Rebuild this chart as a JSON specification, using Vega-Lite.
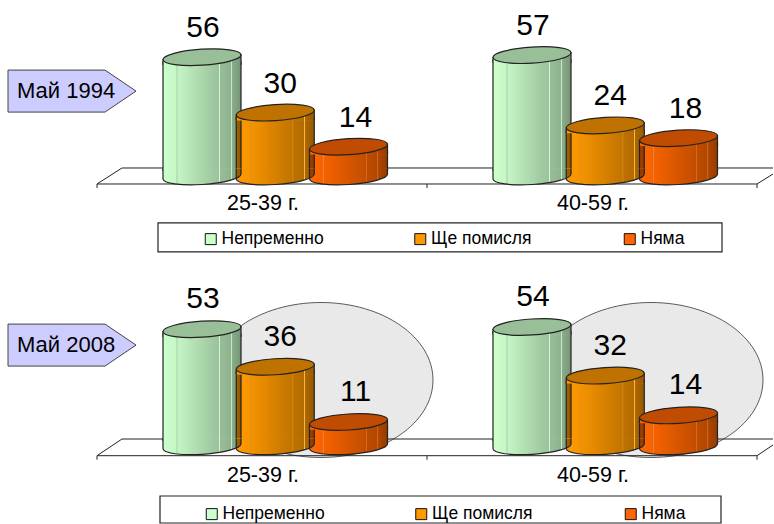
{
"$schema":"https://vega.github.io/schema/vega-lite/v6.json",
"padding":0,"autosize":{"type":"none"},
"background":"white",
"config":{"view":{"stroke":null},"font":"Liberation Sans"},
"datasets":{
"cyl":[
{"period":"Май 1994","group":"25-39 г.","series":"Непременно","value":56},
{"period":"Май 1994","group":"25-39 г.","series":"Ще помисля","value":30},
{"period":"Май 1994","group":"25-39 г.","series":"Няма","value":14},
{"period":"Май 1994","group":"40-59 г.","series":"Непременно","value":57},
{"period":"Май 1994","group":"40-59 г.","series":"Ще помисля","value":24},
{"period":"Май 1994","group":"40-59 г.","series":"Няма","value":18},
{"period":"Май 2008","group":"25-39 г.","series":"Непременно","value":53},
{"period":"Май 2008","group":"25-39 г.","series":"Ще помисля","value":36},
{"period":"Май 2008","group":"25-39 г.","series":"Няма","value":11},
{"period":"Май 2008","group":"40-59 г.","series":"Непременно","value":54},
{"period":"Май 2008","group":"40-59 г.","series":"Ще помисля","value":32},
{"period":"Май 2008","group":"40-59 г.","series":"Няма","value":14}],
"p94":[{"period":"Май 1994"}],
"p08":[{"period":"Май 2008"}],
"groups":[{"group":"25-39 г."},{"group":"40-59 г."}]
},
"width":774,"height":524,
"resolve":{"scale":{"y":"independent","fill":"independent"},"legend":{"fill":"independent"}},
"layer":[
{"layer":[
{"data":{"name":"p94"},"mark":{"type":"point","filled":false,"opacity":1,"fill":"transparent","stroke":"#222","strokeWidth":1,"size":4,"shape":"M-165,11.5 L-165,7.5 L495,7.5 L495,11.5 M165,7.5 L165,11.5 M-165,7.5 L-140,-8.5 L511,-8.5 M495,7.5 L511,-2.5"},
"encoding":{"x":{"datum":"25-39 г.","axis":null},"y":{"datum":0,"type":"quantitative","axis":null}}},
{"data":{"name":"p94"},"mark":{"type":"point","filled":true,"opacity":1,"fill":"#ffffff","stroke":"#222","strokeWidth":1.2,"size":4,"shape":"M-104,-14.5 L460,-14.5 L460,14.5 L-104,14.5 Z"},
"encoding":{"x":{"datum":"25-39 г.","axis":null},"y":{"datum":-28.6,"type":"quantitative","axis":null}}},
{"data":{"name":"p94"},"mark":{"type":"point","filled":true,"opacity":1,"fill":"#ccccff","stroke":"#444","strokeWidth":1,"size":4,"shape":"M-254,-21 L-157,-21 L-126,0 L-157,21 L-254,21 Z"},
"encoding":{"x":{"datum":"25-39 г.","axis":null},"y":{"datum":40.1,"type":"quantitative","axis":null}}},
{"data":{"name":"p94"},"mark":{"type":"text","align":"left","baseline":"middle","dx":-245,"fontSize":22,"color":"#000"},
"encoding":{"x":{"datum":"25-39 г.","axis":null},"y":{"datum":40.1,"type":"quantitative","axis":null},"text":{"field":"period"}}},
{"data":{"name":"groups"},"mark":{"type":"text","align":"center","baseline":"middle","dx":1,"fontSize":21.5,"color":"#000"},
"encoding":{"x":{"field":"group","type":"nominal","axis":null},"y":{"datum":-12.9,"type":"quantitative","axis":null},"text":{"field":"group"}}},
{"data":{"name":"cyl"},"transform":[{"filter":"datum.period==='Май 1994'"}],
"encoding":{
"x":{"field":"group","type":"nominal","scale":{"type":"band","domain":["25-39 г.","40-59 г."],"range":[97,757],"paddingInner":0,"paddingOuter":0},"axis":null},
"xOffset":{"field":"series","type":"nominal","scale":{"type":"point","padding":0,"domain":["Непременно","Ще помисля","Няма"],"range":[105,251.5]}},
"y":{"field":"value","type":"quantitative","scale":{"domain":[-40.14,82.86],"range":[262,0],"nice":false,"zero":false},"axis":null}
},
"layer":[
{"mark":{"type":"bar","width":78,"yOffset":5,"y2Offset":-6},
"encoding":{"y2":{"datum":0},"fill":{"field":"series","type":"nominal","scale":{"domain":["Непременно","Ще помисля","Няма"],"range":["#ccffcc","#ff9900","#ff6600"]},"legend":{"title":null,"orient":"none","legendX":202,"legendY":230,"direction":"horizontal","columns":3,"gridAlign":"all","columnPadding":87.5,"padding":0,"symbolType":"square","symbolSize":121,"labelFontSize":17.5,"labelLimit":200,"labelOffset":2,"labelColor":"#000","zindex":1,"encode":{"symbols":{"update":{"stroke":{"value":"#111"},"strokeWidth":{"value":1}}}}}}}},
{"mark":{"type":"bar","width":78,"yOffset":5,"y2Offset":-6,"stroke":"#222","strokeWidth":1.2,"fill":{"x1":0,"x2":1,"y1":0,"y2":0,"gradient":"linear","stops":[{"offset":0,"color":"rgba(0,0,0,0)"},{"offset":0.17,"color":"rgba(0,0,0,0.03)"},{"offset":0.175,"color":"rgba(255,255,255,0.5)"},{"offset":0.19,"color":"rgba(0,0,0,0.04)"},{"offset":0.6,"color":"rgba(0,0,0,0.2)"},{"offset":0.72,"color":"rgba(0,0,0,0.24)"},{"offset":0.725,"color":"rgba(255,255,255,0.3)"},{"offset":0.735,"color":"rgba(0,0,0,0.26)"},{"offset":0.87,"color":"rgba(0,0,0,0.3)"},{"offset":0.875,"color":"rgba(255,255,255,0.25)"},{"offset":0.885,"color":"rgba(0,0,0,0.32)"},{"offset":1,"color":"rgba(0,0,0,0.42)"}]}},
"encoding":{"y2":{"datum":0}}},
{"mark":{"type":"point","filled":true,"opacity":1,"size":6084,"strokeWidth":0,"shape":"M-1,-0.2 L-1,0.064 A1,0.205 -3.66 0 0 1,-0.064 L1,-0.2 Z"},
"encoding":{"y":{"datum":0,"type":"quantitative"},"fill":{"field":"series","type":"nominal","legend":null}}},
{"mark":{"type":"point","filled":true,"opacity":1,"size":6084,"stroke":"#222","strokeWidth":1.2,"shape":"M-1,-0.2 L-1,0.064 A1,0.205 -3.66 0 0 1,-0.064 L1,-0.2","fill":{"x1":0,"x2":1,"y1":0,"y2":0,"gradient":"linear","stops":[{"offset":0,"color":"rgba(0,0,0,0)"},{"offset":0.17,"color":"rgba(0,0,0,0.03)"},{"offset":0.175,"color":"rgba(255,255,255,0.5)"},{"offset":0.19,"color":"rgba(0,0,0,0.04)"},{"offset":0.6,"color":"rgba(0,0,0,0.2)"},{"offset":0.72,"color":"rgba(0,0,0,0.24)"},{"offset":0.725,"color":"rgba(255,255,255,0.3)"},{"offset":0.735,"color":"rgba(0,0,0,0.26)"},{"offset":0.87,"color":"rgba(0,0,0,0.3)"},{"offset":0.875,"color":"rgba(255,255,255,0.25)"},{"offset":0.885,"color":"rgba(0,0,0,0.32)"},{"offset":1,"color":"rgba(0,0,0,0.42)"}]}},
"encoding":{"y":{"datum":0,"type":"quantitative"}}},
{"mark":{"type":"point","filled":true,"opacity":1,"size":6084,"strokeWidth":0,"shape":"M-1,0.2 L-1,0.064 L1,-0.064 L1,0.2 Z"},
"encoding":{"fill":{"field":"series","type":"nominal","legend":null}}},
{"mark":{"type":"point","filled":true,"opacity":1,"size":6084,"stroke":"#222","strokeWidth":1.2,"shape":"M-1,0.2 L-1,0.064 L1,-0.064 L1,0.2","fill":{"x1":0,"x2":1,"y1":0,"y2":0,"gradient":"linear","stops":[{"offset":0,"color":"rgba(0,0,0,0)"},{"offset":0.17,"color":"rgba(0,0,0,0.03)"},{"offset":0.175,"color":"rgba(255,255,255,0.5)"},{"offset":0.19,"color":"rgba(0,0,0,0.04)"},{"offset":0.6,"color":"rgba(0,0,0,0.2)"},{"offset":0.72,"color":"rgba(0,0,0,0.24)"},{"offset":0.725,"color":"rgba(255,255,255,0.3)"},{"offset":0.735,"color":"rgba(0,0,0,0.26)"},{"offset":0.87,"color":"rgba(0,0,0,0.3)"},{"offset":0.875,"color":"rgba(255,255,255,0.25)"},{"offset":0.885,"color":"rgba(0,0,0,0.32)"},{"offset":1,"color":"rgba(0,0,0,0.42)"}]}}},
{"mark":{"type":"point","filled":true,"opacity":1,"size":6084,"strokeWidth":0,"shape":"M-1,0.064 A1,0.205 -3.66 0 1 1,-0.064 A1,0.205 -3.66 0 1 -1,0.064 Z"},
"encoding":{"fill":{"field":"series","type":"nominal","legend":null}}},
{"mark":{"type":"point","filled":true,"opacity":1,"size":6084,"fill":"#000","fillOpacity":0.25,"stroke":"#222","strokeWidth":1.2,"shape":"M-1,0.064 A1,0.205 -3.66 0 1 1,-0.064 A1,0.205 -3.66 0 1 -1,0.064 Z"}},
{"transform":[{"filter":"datum.series==='Непременно'"}],"mark":{"type":"text","dy":-29,"dx":1,"baseline":"middle","align":"center","fontSize":30,"color":"#000"},"encoding":{"text":{"field":"value","type":"quantitative"}}},
{"transform":[{"filter":"datum.series==='Ще помисля'"}],"mark":{"type":"text","dy":-29,"dx":5,"baseline":"middle","align":"center","fontSize":30,"color":"#000"},"encoding":{"text":{"field":"value","type":"quantitative"}}},
{"transform":[{"filter":"datum.series==='Няма'"}],"mark":{"type":"text","dy":-29,"dx":7,"baseline":"middle","align":"center","fontSize":30,"color":"#000"},"encoding":{"text":{"field":"value","type":"quantitative"}}}
]}
]},
{"layer":[
{"data":{"name":"groups"},"mark":{"type":"point","filled":true,"opacity":1,"fill":"#e9e9e9","stroke":"#333","strokeWidth":0.8,"size":4,"shape":"M-53,0 A112,77.5 0 1 1 171,0 A112,77.5 0 1 1 -53,0 Z"},
"encoding":{"x":{"field":"group","type":"nominal","axis":null},"y":{"datum":30,"type":"quantitative","axis":null}}},
{"data":{"name":"p08"},"mark":{"type":"point","filled":false,"opacity":1,"fill":"transparent","stroke":"#222","strokeWidth":1,"size":4,"shape":"M-165,13.4 L-165,9.4 L495,9.4 L495,13.4 M165,9.4 L165,13.4 M-165,9.4 L-140,-7.3 L511,-7.3 M495,9.4 L511,-1.3"},
"encoding":{"x":{"datum":"25-39 г.","axis":null},"y":{"datum":0,"type":"quantitative","axis":null}}},
{"data":{"name":"p08"},"mark":{"type":"point","filled":true,"opacity":1,"fill":"#ffffff","stroke":"#222","strokeWidth":1.2,"size":4,"shape":"M-102,-13.5 L459,-13.5 L459,13.5 L-102,13.5 Z"},
"encoding":{"x":{"datum":"25-39 г.","axis":null},"y":{"datum":-28.6,"type":"quantitative","axis":null}}},
{"data":{"name":"p08"},"mark":{"type":"point","filled":true,"opacity":1,"fill":"#ccccff","stroke":"#444","strokeWidth":1,"size":4,"shape":"M-254,-21 L-157,-21 L-126,0 L-157,21 L-254,21 Z"},
"encoding":{"x":{"datum":"25-39 г.","axis":null},"y":{"datum":45.8,"type":"quantitative","axis":null}}},
{"data":{"name":"p08"},"mark":{"type":"text","align":"left","baseline":"middle","dx":-245,"fontSize":22,"color":"#000"},
"encoding":{"x":{"datum":"25-39 г.","axis":null},"y":{"datum":45.8,"type":"quantitative","axis":null},"text":{"field":"period"}}},
{"data":{"name":"groups"},"mark":{"type":"text","align":"center","baseline":"middle","dx":1,"fontSize":21.5,"color":"#000"},
"encoding":{"x":{"field":"group","type":"nominal","axis":null},"y":{"datum":-13.4,"type":"quantitative","axis":null},"text":{"field":"group"}}},
{"data":{"name":"cyl"},"transform":[{"filter":"datum.period==='Май 2008'"}],
"encoding":{
"x":{"field":"group","type":"nominal","scale":{"type":"band","domain":["25-39 г.","40-59 г."],"range":[97,757],"paddingInner":0,"paddingOuter":0},"axis":null},
"xOffset":{"field":"series","type":"nominal","scale":{"type":"point","padding":0,"domain":["Непременно","Ще помисля","Няма"],"range":[105,251.5]}},
"y":{"field":"value","type":"quantitative","scale":{"domain":[-35.16,83.4],"range":[524,262],"nice":false,"zero":false},"axis":null}
},
"layer":[
{"mark":{"type":"bar","width":78,"yOffset":5,"y2Offset":-6},
"encoding":{"y2":{"datum":0},"fill":{"field":"series","type":"nominal","scale":{"domain":["Непременно","Ще помисля","Няма"],"range":["#ccffcc","#ff9900","#ff6600"]},"legend":{"title":null,"orient":"none","legendX":203,"legendY":505,"direction":"horizontal","columns":3,"gridAlign":"all","columnPadding":87.5,"padding":0,"symbolType":"square","symbolSize":121,"labelFontSize":17.5,"labelLimit":200,"labelOffset":2,"labelColor":"#000","zindex":1,"encode":{"symbols":{"update":{"stroke":{"value":"#111"},"strokeWidth":{"value":1}}}}}}}},
{"mark":{"type":"bar","width":78,"yOffset":5,"y2Offset":-6,"stroke":"#222","strokeWidth":1.2,"fill":{"x1":0,"x2":1,"y1":0,"y2":0,"gradient":"linear","stops":[{"offset":0,"color":"rgba(0,0,0,0)"},{"offset":0.17,"color":"rgba(0,0,0,0.03)"},{"offset":0.175,"color":"rgba(255,255,255,0.5)"},{"offset":0.19,"color":"rgba(0,0,0,0.04)"},{"offset":0.6,"color":"rgba(0,0,0,0.2)"},{"offset":0.72,"color":"rgba(0,0,0,0.24)"},{"offset":0.725,"color":"rgba(255,255,255,0.3)"},{"offset":0.735,"color":"rgba(0,0,0,0.26)"},{"offset":0.87,"color":"rgba(0,0,0,0.3)"},{"offset":0.875,"color":"rgba(255,255,255,0.25)"},{"offset":0.885,"color":"rgba(0,0,0,0.32)"},{"offset":1,"color":"rgba(0,0,0,0.42)"}]}},
"encoding":{"y2":{"datum":0}}},
{"mark":{"type":"point","filled":true,"opacity":1,"size":6084,"strokeWidth":0,"shape":"M-1,-0.2 L-1,0.064 A1,0.205 -3.66 0 0 1,-0.064 L1,-0.2 Z"},
"encoding":{"y":{"datum":0,"type":"quantitative"},"fill":{"field":"series","type":"nominal","legend":null}}},
{"mark":{"type":"point","filled":true,"opacity":1,"size":6084,"stroke":"#222","strokeWidth":1.2,"shape":"M-1,-0.2 L-1,0.064 A1,0.205 -3.66 0 0 1,-0.064 L1,-0.2","fill":{"x1":0,"x2":1,"y1":0,"y2":0,"gradient":"linear","stops":[{"offset":0,"color":"rgba(0,0,0,0)"},{"offset":0.17,"color":"rgba(0,0,0,0.03)"},{"offset":0.175,"color":"rgba(255,255,255,0.5)"},{"offset":0.19,"color":"rgba(0,0,0,0.04)"},{"offset":0.6,"color":"rgba(0,0,0,0.2)"},{"offset":0.72,"color":"rgba(0,0,0,0.24)"},{"offset":0.725,"color":"rgba(255,255,255,0.3)"},{"offset":0.735,"color":"rgba(0,0,0,0.26)"},{"offset":0.87,"color":"rgba(0,0,0,0.3)"},{"offset":0.875,"color":"rgba(255,255,255,0.25)"},{"offset":0.885,"color":"rgba(0,0,0,0.32)"},{"offset":1,"color":"rgba(0,0,0,0.42)"}]}},
"encoding":{"y":{"datum":0,"type":"quantitative"}}},
{"mark":{"type":"point","filled":true,"opacity":1,"size":6084,"strokeWidth":0,"shape":"M-1,0.2 L-1,0.064 L1,-0.064 L1,0.2 Z"},
"encoding":{"fill":{"field":"series","type":"nominal","legend":null}}},
{"mark":{"type":"point","filled":true,"opacity":1,"size":6084,"stroke":"#222","strokeWidth":1.2,"shape":"M-1,0.2 L-1,0.064 L1,-0.064 L1,0.2","fill":{"x1":0,"x2":1,"y1":0,"y2":0,"gradient":"linear","stops":[{"offset":0,"color":"rgba(0,0,0,0)"},{"offset":0.17,"color":"rgba(0,0,0,0.03)"},{"offset":0.175,"color":"rgba(255,255,255,0.5)"},{"offset":0.19,"color":"rgba(0,0,0,0.04)"},{"offset":0.6,"color":"rgba(0,0,0,0.2)"},{"offset":0.72,"color":"rgba(0,0,0,0.24)"},{"offset":0.725,"color":"rgba(255,255,255,0.3)"},{"offset":0.735,"color":"rgba(0,0,0,0.26)"},{"offset":0.87,"color":"rgba(0,0,0,0.3)"},{"offset":0.875,"color":"rgba(255,255,255,0.25)"},{"offset":0.885,"color":"rgba(0,0,0,0.32)"},{"offset":1,"color":"rgba(0,0,0,0.42)"}]}}},
{"mark":{"type":"point","filled":true,"opacity":1,"size":6084,"strokeWidth":0,"shape":"M-1,0.064 A1,0.205 -3.66 0 1 1,-0.064 A1,0.205 -3.66 0 1 -1,0.064 Z"},
"encoding":{"fill":{"field":"series","type":"nominal","legend":null}}},
{"mark":{"type":"point","filled":true,"opacity":1,"size":6084,"fill":"#000","fillOpacity":0.25,"stroke":"#222","strokeWidth":1.2,"shape":"M-1,0.064 A1,0.205 -3.66 0 1 1,-0.064 A1,0.205 -3.66 0 1 -1,0.064 Z"}},
{"transform":[{"filter":"datum.series==='Непременно'"}],"mark":{"type":"text","dy":-30,"dx":1,"baseline":"middle","align":"center","fontSize":30,"color":"#000"},"encoding":{"text":{"field":"value","type":"quantitative"}}},
{"transform":[{"filter":"datum.series==='Ще помисля'"}],"mark":{"type":"text","dy":-30,"dx":5,"baseline":"middle","align":"center","fontSize":30,"color":"#000"},"encoding":{"text":{"field":"value","type":"quantitative"}}},
{"transform":[{"filter":"datum.series==='Няма'"}],"mark":{"type":"text","dy":-30,"dx":7,"baseline":"middle","align":"center","fontSize":30,"color":"#000"},"encoding":{"text":{"field":"value","type":"quantitative"}}}
]}
]}
]
}
